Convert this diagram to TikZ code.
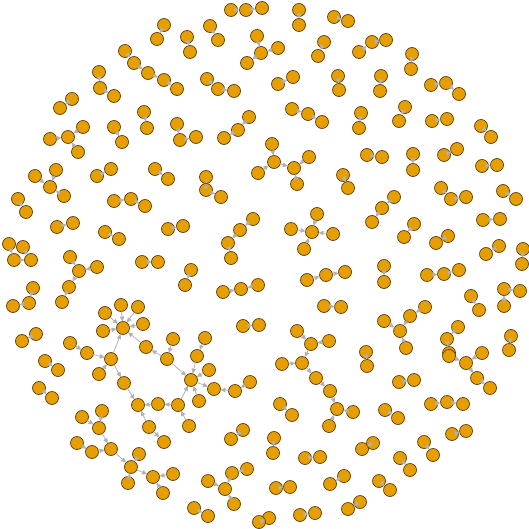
\documentclass[tikz,border=0pt]{standalone}
\usepackage{tikz}
\usetikzlibrary{arrows.meta}

\definecolor{vfill}{RGB}{230,159,0}   % orange
\definecolor{vline}{RGB}{95,62,20}    % brown rim
\definecolor{elink}{RGB}{178,178,178} % grey links

\tikzset{
  vtx/.style={circle,fill=vfill,draw=vline,line width=0.7pt,
    minimum size=13pt,inner sep=0pt,outer sep=0pt},
  link/.style={draw=elink,line width=0.8pt,
    -{Triangle[length=5pt,width=4.5pt]}}
}

\begin{document}
\begin{tikzpicture}[x=1pt,y=-1pt]

  \useasboundingbox (0,0) rectangle (529,529);

  % ---- vertices, top band ----
  \foreach \n/\x/\y in {a1/231/10,a2/246/10,a3/262/8,b1/299/10,b2/299/25,
    c1/334/17,c2/348/21,d1/164/25,d2/157/39,e1/187/37,e2/190/52,
    f1/210/26,f2/218/40,g0/261/53,g1/257/36,g2/278/48,g3/247/63,
    h1/324/42,h2/318/56,i1/359/52,i2/372/42,i3/386/40,j1/412/54,j2/411/69,
    k1/381/76,k2/380/91,l1/431/85,l2/446/83,l3/459/94,m1/361/113,m2/359/128,
    n1/405/107,n2/399/121,o1/432/121,o2/447/119,p1/481/126,p2/491/137,
    q1/367/155,q2/382/157,r1/413/154,r2/413/170,s1/444/155,s2/457/149,
    u1/482/166,u2/497/165,v1/207/79,v2/218/89,v3/234/91,
    w1/125/51,w2/134/63,w3/148/73,w4/164/80,w5/177/89,
    x1/278/84,x2/293/77,y1/338/76,y2/339/90,z1/292/109,z2/308/114,z3/322/122,
    aa1/249/117,aa2/238/130,aa3/224/138,ab1/177/124,ab2/180/140,ab3/196/137,
    ac0/274/162,ac1/272/144,ac2/294/168,ac3/309/157,ac4/258/173,ac5/297/184,
    ad1/206/177,ad2/206/190,ad3/221/197,ae1/343/175,ae2/348/188}
    \node[vtx] (\n) at (\x,\y) {};

  % ---- vertices, left side ----
  \foreach \n/\x/\y in {af1/99/72,af2/100/88,af3/114/96,ag1/72/99,ag2/60/108,
    ah1/144/112,ah2/147/128,ai0/68/137,ai1/83/127,ai2/50/139,ai3/78/152,
    aj1/114/127,aj2/122/142,ak0/50/187,ak1/35/176,ak2/56/170,ak3/64/196,
    al1/97/176,al2/111/169,am1/155/169,am2/168/179,an1/18/199,an2/26/212,
    ao1/114/201,ao2/131/199,ao3/145/206,ap1/57/227,ap2/73/223,
    aq1/105/232,aq2/119/239,ar1/168/229,ar2/183/226,
    as1/9/244,as2/23/247,as3/14/260,as4/31/260,
    at1/70/257,at2/79/271,at3/97/267,at4/69/287,at5/62/302,
    au1/142/262,au2/158/262,av1/33/288,av2/29/303,av3/13/306,
    aw1/36/334,aw2/22/341,ax1/45/361,ax2/58/370,ay1/39/388,ay2/52/398}
    \node[vtx] (\n) at (\x,\y) {};

  % ---- vertices, the two trees bottom left ----
  \foreach \n/\x/\y in {tb0/123/328,tb1/105/313,tb2/121/305,tb3/138/307,
    tb4/143/324,tb5/103/331,t1/70/343,t2/87/353,t3/111/359,t4/99/374,
    t5/124/383,t6/138/405,t7/158/404,t8/178/405,t9/149/427,t10/164/442,
    t11/189/426,t12/146/347,t13/167/359,t14/173/339,t15/191/380,
    t16/197/356,t17/205/338,t18/209/370,t19/214/389,t20/235/391,
    t21/250/382,t22/199/401,
    lt1/82/417,lt2/102/411,lt3/99/428,lt4/77/443,lt5/92/452,lt6/111/449,
    lt7/139/454,lt8/131/467,lt9/128/483,lt10/153/477,lt11/173/474,lt12/163/493}
    \node[vtx] (\n) at (\x,\y) {};

  % ---- vertices, middle ----
  \foreach \n/\x/\y in {az1/253/219,az2/240/230,az3/228/243,az4/231/258,
    ba0/312/232,ba1/317/214,ba2/291/229,ba3/333/234,ba4/304/249,
    bb1/191/270,bb2/185/285,bc1/223/292,bc2/241/289,bc3/258/285,
    bd1/307/280,bd2/326/275,bd3/345/272,be1/324/306,be2/341/307,
    bf1/243/326,bf2/259/325,bg1/297/331,bg2/311/344,bg3/329/341,
    bg4/302/363,bg5/282/364,bg6/316/378,bg7/330/391,bg8/337/409,
    bg9/353/412,bg10/329/426}
    \node[vtx] (\n) at (\x,\y) {};

  % ---- vertices, right side ----
  \foreach \n/\x/\y in {bi1/441/188,bi2/451/199,bi3/466/197,bj1/503/191,bj2/516/199,
    bk1/394/197,bk2/382/208,bk3/372/222,bl1/414/224,bl2/404/237,
    bm1/483/220,bm2/500/219,bn1/448/236,bn2/436/243,bo1/499/246,bo2/486/254,
    bp1/523/249,bp2/522/264,bq1/384/266,bq2/384/282,
    br1/427/275,br2/444/274,br3/459/270,bs1/471/296,bs2/479/310,
    bt1/504/289,bt2/520/291,bt3/504/306,
    bu0/400/331,bu1/425/307,bu2/410/316,bu3/384/321,bu4/406/348,
    bv1/458/327,bv2/447/339,bv3/449/353,bw1/511/336,bw2/509/350,
    bx1/366/352,bx2/367/366,by0/466/363,by1/449/356,by2/482/353,
    by3/477/378,by4/490/388,bz1/399/382,bz2/414/380}
    \node[vtx] (\n) at (\x,\y) {};

  % ---- vertices, bottom band ----
  \foreach \n/\x/\y in {ca1/431/404,ca2/447/402,ca3/463/404,cc1/385/410,cc2/398/418,
    cd1/452/434,cd2/466/431,ce1/362/449,ce2/373/443,cf1/424/442,cf2/433/455,
    cg1/400/458,cg2/410/470,ch1/379/481,ch2/390/490,ci1/360/502,ci2/348/509,
    cj1/243/430,cj2/231/439,ck1/274/438,ck2/273/453,cl1/280/404,cl2/292/415,
    cm1/305/458,cm2/320/457,cn0/225/489,cn1/208/481,cn2/232/473,
    cn3/247/469,cn4/234/504,co1/276/488,co2/290/487,cp1/344/476,cp2/330/484,
    cq1/194/508,cq2/208/516,cr1/269/518,cr2/259/522,cs1/300/515,cs2/315/513}
    \node[vtx] (\n) at (\x,\y) {};

  % ---- links ----
  \foreach \a/\b in {a1/a2,a2/a3,b1/b2,c1/c2,d1/d2,e1/e2,f1/f2,g1/g0,g2/g0,
    g0/g3,h1/h2,i1/i2,i2/i3,j1/j2,k1/k2,l1/l2,l2/l3,m1/m2,n1/n2,o1/o2,p1/p2,
    q1/q2,r1/r2,s1/s2,u1/u2,v1/v2,v2/v3,w1/w2,w2/w3,w3/w4,w4/w5,x1/x2,y1/y2,
    z1/z2,z2/z3,aa1/aa2,aa2/aa3,ab1/ab2,ab2/ab3,ac1/ac0,ac4/ac0,ac0/ac2,
    ac3/ac2,ac5/ac2,ad1/ad2,ad2/ad3,ae1/ae2,af1/af2,af2/af3,ag1/ag2,ah1/ah2,
    ai1/ai0,ai2/ai0,ai3/ai0,aj1/aj2,ak1/ak0,ak2/ak0,ak3/ak0,al1/al2,am1/am2,
    an1/an2,ao1/ao2,ao2/ao3,ap1/ap2,aq1/aq2,ar1/ar2,as1/as3,as2/as4,as3/as4,
    at1/at2,at3/at2,at2/at4,at4/at5,au1/au2,av1/av2,av2/av3,aw1/aw2,
    ax1/ax2,ay1/ay2}
    \draw[link] (\a) -- (\b);

  % trees with the loop
  \foreach \a/\b in {tb1/tb0,tb2/tb0,tb3/tb0,tb4/tb0,tb5/tb0,t1/t2,t2/t3,
    t4/t3,t3/tb0,t3/t5,t5/t6,t7/t6,t8/t7,t9/t6,t9/t10,t11/t8,t8/t15,
    t12/tb0,t13/t12,t14/t13,t13/t15,t16/t15,t17/t16,t18/t15,t15/t19,
    t20/t19,t21/t20,t22/t15,
    lt1/lt3,lt2/lt3,lt3/lt6,lt4/lt5,lt5/lt6,lt6/lt8,lt7/lt8,lt9/lt8,
    lt8/lt10,lt11/lt10,lt12/lt10}
    \draw[link] (\a) -- (\b);

  \foreach \a/\b in {az1/az2,az2/az3,az3/az4,ba1/ba0,ba2/ba0,ba3/ba0,ba4/ba0,
    bb1/bb2,bc1/bc2,bc3/bc2,bd1/bd2,bd2/bd3,be1/be2,bf1/bf2,bg1/bg2,bg3/bg2,
    bg2/bg4,bg5/bg4,bg4/bg6,bg6/bg7,bg7/bg8,bg9/bg8,bg10/bg8,
    bi1/bi2,bi2/bi3,bj1/bj2,bk1/bk2,bk2/bk3,bl1/bl2,bm1/bm2,bn1/bn2,bo1/bo2,
    bp1/bp2,bq1/bq2,br1/br2,br2/br3,bs1/bs2,bt1/bt2,bt3/bt1,bu1/bu2,bu2/bu0,
    bu3/bu0,bu4/bu0,bv1/bv2,bv2/bv3,bw1/bw2,bx1/bx2,by1/by0,by2/by0,
    by0/by3,by3/by4,bz1/bz2,ca1/ca2,ca2/ca3,cc1/cc2,cd1/cd2,ce1/ce2,cf1/cf2,
    cg1/cg2,ch1/ch2,ci1/ci2,cj1/cj2,ck1/ck2,cl1/cl2,cm1/cm2,cn1/cn0,cn2/cn0,
    cn3/cn2,cn4/cn0,co1/co2,cp1/cp2,cq1/cq2,cr1/cr2,cs1/cs2}
    \draw[link] (\a) -- (\b);

\end{tikzpicture}
\end{document}
